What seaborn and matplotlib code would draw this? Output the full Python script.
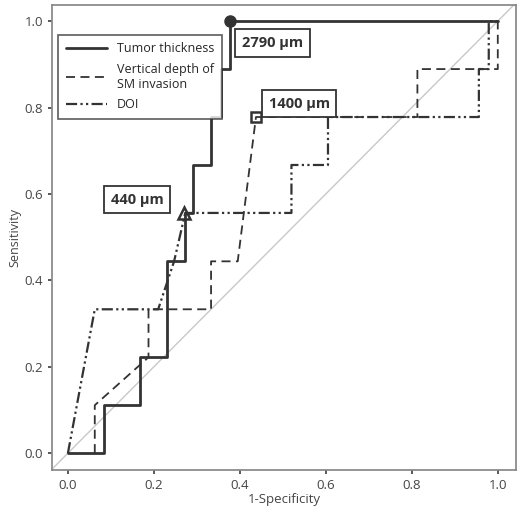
import matplotlib
matplotlib.use("Agg")
import matplotlib.pyplot as plt
import seaborn as sns
import pandas as pd

sns.set_theme(style="white")
plt.rcParams['font.family'] = ['Open Sans', 'DejaVu Sans']

tt_x = [0, 0.083, 0.083, 0.167, 0.167, 0.231, 0.231, 0.273, 0.273, 0.29, 0.29, 0.333, 0.333, 0.355, 0.355, 0.376, 0.376, 1.0]
tt_y = [0, 0, 0.111, 0.111, 0.222, 0.222, 0.444, 0.444, 0.556, 0.556, 0.667, 0.667, 0.778, 0.778, 0.889, 0.889, 1.0, 1.0]
sm_x = [0.0625, 0.0625, 0.1875, 0.1875, 0.333, 0.333, 0.395, 0.4375, 0.813, 0.813, 1.0, 1.0]
sm_y = [0, 0.111, 0.222, 0.333, 0.333, 0.444, 0.444, 0.778, 0.778, 0.889, 0.889, 1.0]
doi_x = [0, 0.0625, 0.21, 0.247, 0.273, 0.52, 0.52, 0.605, 0.605, 0.956, 0.956, 0.979, 0.979, 1.0]
doi_y = [0, 0.333, 0.333, 0.444, 0.556, 0.556, 0.667, 0.667, 0.778, 0.778, 0.889, 0.889, 1.0, 1.0]
ticks = [0.0, 0.2, 0.4, 0.6, 0.8, 1.0]

fig = plt.figure(figsize=(5.2, 5.12), dpi=100)
ax = fig.add_axes([0.1, 0.082, 0.892, 0.908])
ax.plot([-0.04, 1.04], [-0.04, 1.04], color='#c8c8c8', lw=1)
c = '#333333'
sns.lineplot(x=tt_x, y=tt_y, sort=False, estimator=None, ax=ax, color=c, lw=2, label='Tumor thickness')
sns.lineplot(x=sm_x, y=sm_y, sort=False, estimator=None, ax=ax, color=c, lw=1.3, ls=(0, (5, 3)), label='Vertical depth of\nSM invasion')
sns.lineplot(x=doi_x, y=doi_y, sort=False, estimator=None, ax=ax, color=c, lw=1.6, ls=(0, (5, 1.5, 1, 1.5, 1, 1.5)), label='DOI')
ax.plot([0.376], [1.0], 'o', color=c, ms=8)
ax.plot([0.4375], [0.778], 's', mfc='none', mec=c, mew=1.8, ms=7)
ax.plot([0.27], [0.556], '^', mfc='none', mec=c, mew=1.8, ms=9)
bb = dict(boxstyle='square,pad=0.45', fc='white', ec=c, lw=1.3)
ax.text(0.405, 0.94, '2790 µm', fontsize=10.5, weight='bold', color=c, bbox=bb)
ax.text(0.467, 0.8, '1400 µm', fontsize=10.5, weight='bold', color=c, bbox=bb)
ax.text(0.1, 0.577, '440 µm', fontsize=10.5, weight='bold', color=c, bbox=bb)
ax.set_xlim(-0.037, 1.042)
ax.set_ylim(-0.039, 1.037)
ax.set_xticks(ticks)
ax.set_yticks(ticks)
ax.set_xticklabels([f'{t:.1f}' for t in ticks])
ax.set_yticklabels([f'{t:.1f}' for t in ticks])
ax.tick_params(labelsize=9.5, colors='#444444', length=3, left=True, bottom=True)
ax.set_xlabel('1-Specificity', fontsize=9.5, color='#444444', labelpad=1)
ax.set_ylabel('Sensitivity', fontsize=9, color='#444444', labelpad=2)
for s in ax.spines.values():
    s.set_color('#888888')
leg = ax.legend(loc='upper left', bbox_to_anchor=(0.0, 0.95), fontsize=9, frameon=True, fancybox=False, edgecolor=c, handlelength=3.3, labelspacing=0.6, borderpad=0.6)
leg.get_frame().set_linewidth(1.2)
fig.savefig('out.png', dpi=100)
